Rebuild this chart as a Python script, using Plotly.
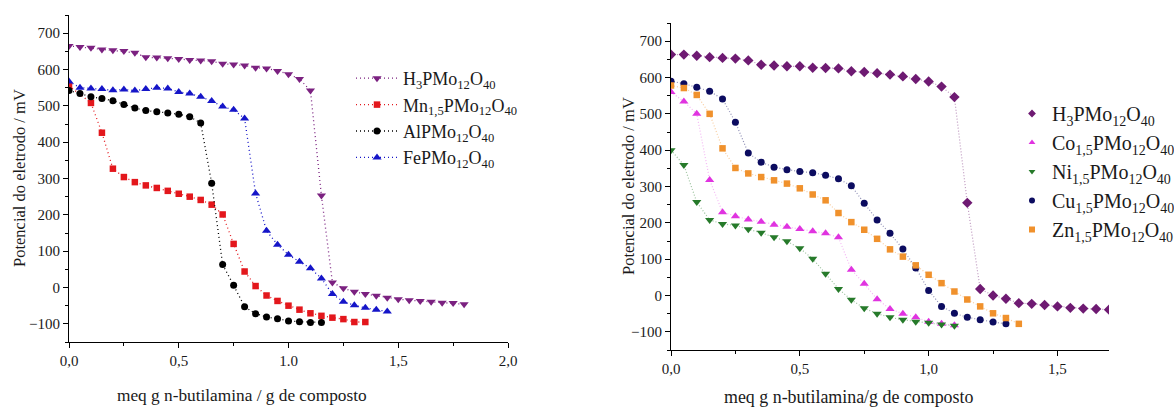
import plotly.graph_objects as go

# ---------------- Left panel data ----------------
L_H3_x = [0.0, 0.05, 0.1, 0.15, 0.2, 0.25, 0.3, 0.35, 0.4, 0.45, 0.5, 0.55, 0.6, 0.65, 0.7, 0.75, 0.8, 0.85,
          0.9, 0.95, 1.0, 1.05, 1.1, 1.15, 1.2, 1.25, 1.3, 1.35, 1.4, 1.45, 1.5, 1.55, 1.6, 1.65, 1.7, 1.75, 1.8]
L_H3_y = [665, 662, 660, 655, 653, 651, 646, 634, 633, 631, 629, 626, 625, 623, 616, 614, 611, 605,
          603, 596, 587, 574, 542, 253, 14, -2, -12, -18, -23, -28, -32, -35, -37, -39, -42, -43, -46]

L_Mn_x = [0.0, 0.1, 0.15, 0.2, 0.25, 0.3, 0.35, 0.4, 0.45, 0.5, 0.55, 0.6, 0.65, 0.7, 0.75, 0.8, 0.85,
          0.9, 0.95, 1.0, 1.05, 1.1, 1.15, 1.2, 1.25, 1.3, 1.35]
L_Mn_y = [555, 508, 426, 327, 304, 290, 281, 274, 266, 258, 250, 241, 228, 201, 120, 44, 4,
          -22, -37, -50, -61, -71, -78, -83, -87, -95, -95]

L_Al_x = [0.0, 0.05, 0.1, 0.15, 0.2, 0.25, 0.3, 0.35, 0.4, 0.45, 0.5, 0.55, 0.6, 0.65, 0.7, 0.75, 0.8, 0.85,
          0.9, 0.95, 1.0, 1.05, 1.1, 1.15]
L_Al_y = [542, 534, 525, 520, 514, 504, 494, 487, 484, 480, 477, 470, 453, 287, 63, 6, -53, -72,
          -81, -86, -92, -94, -96, -96]

L_Fe_x = [0.0, 0.05, 0.1, 0.15, 0.2, 0.25, 0.3, 0.35, 0.4, 0.45, 0.5, 0.55, 0.6, 0.65, 0.7, 0.75, 0.8, 0.85,
          0.9, 0.95, 1.0, 1.05, 1.1, 1.15, 1.2, 1.25, 1.3, 1.35, 1.4, 1.45]
L_Fe_y = [567, 550, 548, 546, 543, 545, 542, 546, 550, 548, 538, 534, 525, 513, 498, 489, 465, 259,
          156, 118, 90, 71, 53, 25, -18, -39, -49, -56, -61, -66]

# ---------------- Right panel data ----------------
R_H3_x = [0.0, 0.05, 0.1, 0.15, 0.2, 0.25, 0.3, 0.35, 0.4, 0.45, 0.5, 0.55, 0.6, 0.65, 0.7, 0.75, 0.8, 0.85,
          0.9, 0.95, 1.0, 1.05, 1.1, 1.15, 1.2, 1.25, 1.3, 1.35, 1.4, 1.45, 1.5, 1.55, 1.6, 1.65, 1.7]
R_H3_y = [663, 663, 660, 656, 654, 652, 647, 635, 633, 631, 631, 627, 626, 625, 617, 615, 612, 608,
          603, 596, 589, 575, 546, 255, 18, 0, -9, -21, -23, -26, -30, -34, -36, -37, -39]

R_Co_x = [0.0, 0.05, 0.1, 0.15, 0.2, 0.25, 0.3, 0.35, 0.4, 0.45, 0.5, 0.55, 0.6, 0.65, 0.7, 0.75, 0.8, 0.85,
          0.9, 0.95, 1.0, 1.05, 1.1]
R_Co_y = [560, 534, 500, 318, 229, 218, 209, 203, 195, 189, 183, 177, 171, 160, 71, 32, -10, -37,
          -50, -60, -72, -78, -82]

R_Ni_x = [0.0, 0.05, 0.1, 0.15, 0.2, 0.25, 0.3, 0.35, 0.4, 0.45, 0.5, 0.55, 0.6, 0.65, 0.7, 0.75, 0.8, 0.85,
          0.9, 0.95, 1.0, 1.05, 1.1]
R_Ni_y = [400, 359, 257, 208, 197, 193, 182, 173, 160, 149, 130, 101, 60, 18, -12, -35, -50, -60,
          -67, -72, -75, -80, -83]

R_Cu_x = [0.0, 0.05, 0.1, 0.15, 0.2, 0.25, 0.3, 0.35, 0.4, 0.45, 0.5, 0.55, 0.6, 0.65, 0.7, 0.75, 0.8, 0.85,
          0.9, 0.95, 1.0, 1.05, 1.1, 1.15, 1.2, 1.25, 1.3]
R_Cu_y = [590, 583, 573, 562, 541, 477, 392, 367, 353, 346, 341, 338, 331, 321, 302, 254, 208, 171,
          128, 76, 14, -30, -49, -60, -67, -73, -78]

R_Zn_x = [0.0, 0.05, 0.1, 0.15, 0.2, 0.25, 0.3, 0.35, 0.4, 0.45, 0.5, 0.55, 0.6, 0.65, 0.7, 0.75, 0.8, 0.85,
          0.9, 0.95, 1.0, 1.05, 1.1, 1.15, 1.2, 1.25, 1.3, 1.35]
R_Zn_y = [578, 571, 552, 500, 405, 351, 336, 326, 317, 308, 295, 278, 262, 227, 202, 181, 156, 127,
          107, 83, 57, 34, 11, -11, -30, -49, -62, -78]

# ---------------- Labels ----------------
left_names = ["H<sub>3</sub>PMo<sub>12</sub>O<sub>40</sub>",
              "Mn<sub>1,5</sub>PMo<sub>12</sub>O<sub>40</sub>",
              "AlPMo<sub>12</sub>O<sub>40</sub>",
              "FePMo<sub>12</sub>O<sub>40</sub>"]
right_names = ["H<sub>3</sub>PMo<sub>12</sub>O<sub>40</sub>",
               "Co<sub>1,5</sub>PMo<sub>12</sub>O<sub>40</sub>",
               "Ni<sub>1,5</sub>PMo<sub>12</sub>O<sub>40</sub>",
               "Cu<sub>1,5</sub>PMo<sub>12</sub>O<sub>40</sub>",
               "Zn<sub>1,5</sub>PMo<sub>12</sub>O<sub>40</sub>"]
left_xticks = [0.0, 0.5, 1.0, 1.5, 2.0]
left_xticktext = ["0,0", "0,5", "1.0", "1,5", "2,0"]
right_xticks = [0.0, 0.5, 1.0, 1.5]
right_xticktext = ["0,0", "0,5", "1,0", "1,5"]
yticks = [-100, 0, 100, 200, 300, 400, 500, 600, 700]
left_xtitle = "meq g n-butilamina / g de composto"
right_xtitle = "meq g n-butilamina/g de composto"
ytitle = "Potencial do eletrodo / mV"

FONT = "Liberation Serif, Times New Roman, serif"
TXT = "#1a1a1a"
W, H = 1174, 407

fig = go.Figure()

left_series = [
    (L_H3_x, L_H3_y, "#7B2180", "triangle-down", 8),
    (L_Mn_x, L_Mn_y, "#E3171C", "square", 6.5),
    (L_Al_x, L_Al_y, "#000000", "circle", 7),
    (L_Fe_x, L_Fe_y, "#1515C8", "triangle-up", 8),
]
for (xs, ys, col, sym, sz), name in zip(left_series, left_names):
    fig.add_trace(go.Scatter(
        x=xs, y=ys, name=name, mode="lines+markers",
        line=dict(color=col, width=1.3, dash="1px,3px"),
        marker=dict(color=col, symbol=sym, size=sz),
        xaxis="x", yaxis="y", legend="legend"))

right_series = [
    (R_H3_x, R_H3_y, "#6E1A72", "diamond", 8, "rgba(110,26,114,0.45)"),
    (R_Co_x, R_Co_y, "#E033E0", "triangle-up", 8, "rgba(224,51,224,0.35)"),
    (R_Ni_x, R_Ni_y, "#267A2A", "triangle-down", 8, "rgba(38,122,42,0.45)"),
    (R_Cu_x, R_Cu_y, "#0C0C60", "circle", 7, "rgba(12,12,96,0.45)"),
    (R_Zn_x, R_Zn_y, "#F0912C", "square", 6.5, "rgba(240,145,44,0.45)"),
]
for (xs, ys, col, sym, sz, lcol), name in zip(right_series, right_names):
    fig.add_trace(go.Scatter(
        x=xs, y=ys, mode="lines", showlegend=False, hoverinfo="skip",
        line=dict(color=lcol, width=1.2, dash="1px,2px"),
        xaxis="x2", yaxis="y2"))
for (xs, ys, col, sym, sz, lcol), name in zip(right_series, right_names):
    fig.add_trace(go.Scatter(
        x=xs, y=ys, name=name, mode="markers", showlegend=False,
        marker=dict(color=col, symbol=sym, size=sz),
        xaxis="x2", yaxis="y2"))
# legend entries for the right panel (small markers, as in the reference)
for (xs, ys, col, sym, sz, lcol), name in zip(right_series, right_names):
    fig.add_trace(go.Scatter(
        x=[None], y=[None], name=name, mode="markers",
        marker=dict(color=col, symbol=sym, size=6),
        xaxis="x2", yaxis="y2", legend="legend2"))

axis_common = dict(showline=True, linecolor="black", linewidth=1, mirror=False,
                   ticks="outside", ticklen=5, tickwidth=1, tickcolor="black",
                   showgrid=False, zeroline=False, automargin=False,
                   tickfont=dict(family=FONT, size=15, color=TXT))

L_dom_x = [69 / W, 508 / W]
R_dom_x = [671 / W, 1109 / W]
L_dom_y = [(H - 342) / H, (H - 15) / H]
R_dom_y = [(H - 350) / H, (H - 23) / H]

fig.update_layout(
    width=W, height=H,
    margin=dict(l=0, r=0, t=0, b=0, pad=0, autoexpand=False),
    paper_bgcolor="white", plot_bgcolor="white",
    font=dict(family=FONT, color=TXT),
    xaxis=dict(domain=L_dom_x, anchor="y", range=[0, 2.0],
               tickvals=left_xticks, ticktext=left_xticktext,
               minor=dict(ticks="outside", ticklen=3, dtick=0.25, tickcolor="black"),
               **axis_common),
    yaxis=dict(domain=L_dom_y, anchor="x", range=[-150, 750],
               tickvals=yticks,
               minor=dict(ticks="outside", ticklen=3, dtick=50, tick0=0, tickcolor="black"),
               **axis_common),
    xaxis2=dict(domain=R_dom_x, anchor="y2", range=[0, 1.7],
                tickvals=right_xticks, ticktext=right_xticktext,
                minor=dict(ticks="outside", ticklen=3, dtick=0.25, tickcolor="black"),
                **axis_common),
    yaxis2=dict(domain=R_dom_y, anchor="x2", range=[-150, 750],
                tickvals=yticks,
                minor=dict(ticks="outside", ticklen=3, dtick=50, tick0=0, tickcolor="black"),
                **axis_common),
    legend=dict(x=351 / W, y=(H - 60) / H, xanchor="left", yanchor="top",
                bgcolor="rgba(0,0,0,0)", itemwidth=42,
                font=dict(family=FONT, size=18, color=TXT),
                tracegroupgap=0),
    legend2=dict(x=1012 / W, y=(H - 94) / H, xanchor="left", yanchor="top",
                 bgcolor="rgba(0,0,0,0)",
                 font=dict(family=FONT, size=20, color=TXT)),
    annotations=[
        dict(text=left_xtitle, x=242 / W, y=(H - 395) / H, xref="paper", yref="paper",
             xanchor="center", yanchor="middle", showarrow=False,
             font=dict(family=FONT, size=17.3, color=TXT)),
        dict(text=right_xtitle, x=848 / W, y=(H - 397) / H, xref="paper", yref="paper",
             xanchor="center", yanchor="middle", showarrow=False,
             font=dict(family=FONT, size=17.9, color=TXT)),
        dict(text=ytitle, x=20 / W, y=(H - 178) / H, xref="paper", yref="paper",
             xanchor="center", yanchor="middle", showarrow=False, textangle=-90,
             font=dict(family=FONT, size=16.5, color=TXT)),
        dict(text=ytitle, x=628 / W, y=(H - 186) / H, xref="paper", yref="paper",
             xanchor="center", yanchor="middle", showarrow=False, textangle=-90,
             font=dict(family=FONT, size=16.5, color=TXT)),
    ],
)

fig.write_html("out.html")
